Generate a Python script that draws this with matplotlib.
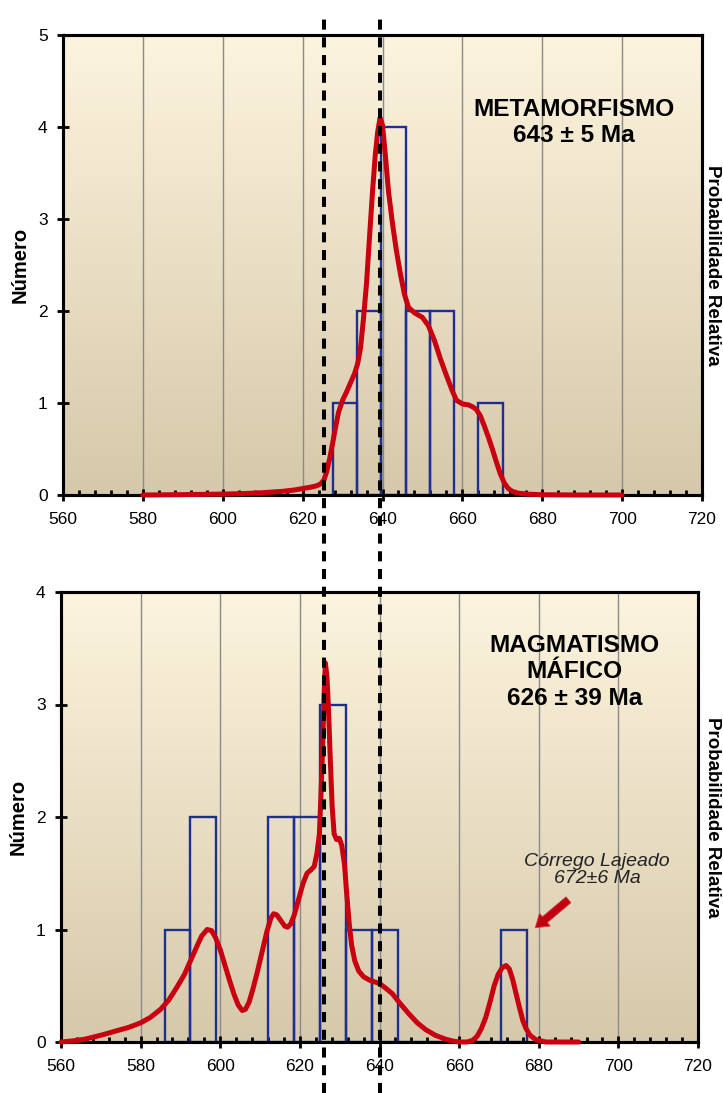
import numpy as np
import matplotlib
matplotlib.use("Agg")
import matplotlib.pyplot as plt
from matplotlib.lines import Line2D
from matplotlib.transforms import blended_transform_factory

plt.rcParams['font.family'] = ['Liberation Sans', 'DejaVu Sans']

# ---------------- data ----------------
# Top panel: METAMORFISMO
top_bin_start = 627.6
top_bin_width = 6.07
top_counts = [1, 2, 4, 2, 2, 0, 1]
top_curve_x = [580, 590, 600, 605, 610, 615, 618, 620, 622, 623.5, 624.5, 625.3, 626,
               626.8, 627.5, 628.3, 629, 630, 631, 632, 633, 633.8, 634.5, 635.2, 636,
               636.8, 637.5, 638.2, 638.8, 639.4, 640, 640.7, 641.5, 642.5, 643.5, 644.5,
               645.5, 646.5, 648, 650, 651.5, 653, 654.5, 656, 657.5, 658.5, 660, 661.5,
               662.5, 663.5, 664.5, 665.5, 666.5, 667.5, 668.5, 669.5, 670.5, 671.5,
               672.5, 674, 676, 680, 690, 700]
top_curve_y = [0.0, 0.004, 0.01, 0.015, 0.025, 0.04, 0.055, 0.07, 0.085, 0.1, 0.12, 0.16,
               0.25, 0.4, 0.56, 0.75, 0.9, 1.03, 1.12, 1.22, 1.32, 1.43, 1.6, 1.9, 2.3,
               2.84, 3.3, 3.7, 3.95, 4.1, 4.02, 3.7, 3.3, 2.95, 2.65, 2.4,
               2.18, 2.04, 1.98, 1.93, 1.84, 1.68, 1.48, 1.3, 1.13, 1.03, 0.99, 0.98,
               0.96, 0.93, 0.86, 0.75, 0.63, 0.5, 0.36, 0.23, 0.13, 0.07,
               0.04, 0.02, 0.01, 0.003, 0.0, 0.0]

# Bottom panel: MAGMATISMO MAFICO
bot_bin_start = 586.0
bot_bin_width = 6.51
bot_counts = [1, 2, 0, 0, 2, 2, 3, 1, 1, 0, 0, 0, 0, 1]
bot_curve_x = [560, 563, 566, 570, 574, 577, 580, 582.5, 585, 587, 589, 591, 592.5, 594,
               595.3, 596.7, 597.8, 598.8, 600, 601.2, 602.4, 603.5, 604.5, 605.5, 606.3,
               607.2, 608.2, 609.3, 610.5, 611.7, 612.7, 613.4, 614.2, 615.2, 616.2,
               616.9, 617.7, 618.6, 619.7, 620.8, 621.8, 622.8, 623.6, 624.3, 624.9,
               625.3, 625.7, 626.1, 626.4, 626.8, 627.2, 627.6, 628.1, 628.6, 629.2,
               629.9, 630.5, 631.2, 631.8, 632.4, 633, 633.8, 634.8, 636, 637.5, 640,
               641.5, 643.2, 645, 647.4, 649.5, 651.6, 654, 656.6, 658.5, 660, 662,
               663.4, 664.5, 665.6, 666.7, 667.8, 668.8, 669.8, 670.8, 671.8, 672.6,
               673.5, 674.3, 675.2, 676, 676.8, 677.8, 679.3, 681.8, 690]
bot_curve_y = [0.0, 0.01, 0.025, 0.06, 0.1, 0.13, 0.17, 0.22, 0.29, 0.37, 0.48, 0.6, 0.72,
               0.84, 0.94, 1.0, 0.99, 0.93, 0.82, 0.68, 0.54, 0.42, 0.33, 0.28, 0.29,
               0.35, 0.47, 0.62, 0.8, 0.98, 1.1, 1.14, 1.13, 1.08, 1.03,
               1.02, 1.05, 1.13, 1.27, 1.41, 1.5, 1.53, 1.56, 1.68, 1.85,
               2.2, 2.6, 3.1, 3.37, 3.25, 2.95, 2.55, 2.1, 1.85, 1.8,
               1.81, 1.75, 1.58, 1.3, 1.05, 0.86, 0.72, 0.63, 0.58, 0.55, 0.52,
               0.48, 0.43, 0.35, 0.25, 0.17, 0.11, 0.06, 0.025, 0.008, 0.0, 0.0,
               0.015, 0.05, 0.12, 0.22, 0.36, 0.5, 0.6, 0.66, 0.68, 0.65,
               0.55, 0.43, 0.3, 0.19, 0.12, 0.06, 0.02, 0.0, 0.0]

x_ticks = [560, 580, 600, 620, 640, 660, 680, 700, 720]
dash_lines_x = [626, 640]

top_title = "METAMORFISMO\n643 ± 5 Ma"
bot_title = "MAGMATISMO\nMÁFICO\n626 ± 39 Ma"
annot_text = "Córrego Lajeado\n672±6 Ma"

# ---------------- styling ----------------
BAR_EC = '#1f2f8f'
CURVE_C = '#c8000f'
GRID_C = '#8a8a8a'

fig = plt.figure(figsize=(7.23, 10.93), dpi=100)
ax1 = fig.add_axes([63/723, 1-495/1093, (702-63)/723, (495-35)/1093])
ax2 = fig.add_axes([61/723, 1-1042/1093, (698-61)/723, (1042-592)/1093])

grad = np.linspace(0, 1, 256).reshape(-1, 1)
top_rgb = np.array([253, 244, 222]) / 255.0
bot_rgb = np.array([214, 200, 170]) / 255.0
grad_img = top_rgb[None, None, :] * (1 - grad[:, :, None]) + bot_rgb[None, None, :] * grad[:, :, None]


def style_axes(ax, ymax, counts, start, width, cx, cy, rlabel_x):
    ax.imshow(grad_img, extent=[0, 1, 0, 1], transform=ax.transAxes,
              aspect='auto', zorder=0, interpolation='bilinear')
    edges = [start + i * width for i in range(len(counts) + 1)]
    ax.hist(edges[:-1], bins=edges, weights=counts, histtype='bar',
            facecolor='none', edgecolor=BAR_EC, linewidth=1.7, zorder=2)
    ax.set_xlim(560, 720)
    ax.set_ylim(0, ymax)
    ax.set_xticks(x_ticks)
    ax.set_xticks(np.arange(560, 721, 4), minor=True)
    ax.set_yticks(range(0, ymax + 1))
    ax.grid(axis='x', color=GRID_C, linewidth=1.0, zorder=1)
    ax.set_axisbelow(True)
    for s in ax.spines.values():
        s.set_linewidth(2.2)
        s.set_color('black')
    ax.tick_params(axis='both', which='major', direction='inout', length=8,
                   width=2.0, labelsize=12.5)
    ax.tick_params(axis='x', which='major', pad=8)
    ax.tick_params(axis='y', which='major', pad=7)
    ax.tick_params(axis='x', which='minor', direction='in', length=3.5, width=2.0)
    ax.tick_params(axis='y', which='minor', left=False)
    ax.set_ylabel('Número', fontsize=14.5, fontweight='bold', labelpad=6)

    tw = ax.twinx()
    tw.set_ylim(0, ymax)
    tw.set_yticks([])
    tw.plot(cx, cy, color=CURVE_C, linewidth=3.6, solid_capstyle='round',
            solid_joinstyle='round', clip_on=False, zorder=3)
    tw.set_ylabel('Probabilidade Relativa', fontsize=13.5, fontweight='bold',
                  rotation=-90)
    tw.yaxis.set_label_coords(rlabel_x, 0.5)
    tw.yaxis.label.set_ha('center')
    tw.yaxis.label.set_va('center')
    for s in tw.spines.values():
        s.set_linewidth(2.2)
    return tw


tw1 = style_axes(ax1, 5, top_counts, top_bin_start, top_bin_width,
                 top_curve_x, top_curve_y, (712 - 63) / 639)
tw2 = style_axes(ax2, 4, bot_counts, bot_bin_start, bot_bin_width,
                 bot_curve_x, bot_curve_y, (712 - 61) / 637)

ax1.text(688, 4.05, top_title, ha='center', va='center', fontsize=17.6,
         fontweight='bold', linespacing=1.15, zorder=5)
ax2.text(689, 3.29, bot_title, ha='center', va='center', fontsize=17.6,
         fontweight='bold', linespacing=1.18, zorder=5)
ax2.text(694.7, 1.53, annot_text, ha='center', va='center', fontsize=14,
         style='italic', color='#222222', linespacing=1.0, zorder=5)
ax2.annotate('', xy=(678.6, 1.0), xytext=(688.0, 1.28),
             arrowprops=dict(arrowstyle='simple,head_width=1.2,head_length=0.9,tail_width=0.55',
                             fc='#c00010', ec='#d04040', lw=0.6),
             zorder=6)

# dashed vertical reference lines crossing the whole figure
trans = blended_transform_factory(ax2.transData, fig.transFigure)
for xv in dash_lines_x:
    ln = Line2D([xv, xv], [0.0, 1 - 12/1093], transform=trans, color='black',
                linewidth=2.9, linestyle=(0, (2.5, 1.9)), zorder=10)
    fig.add_artist(ln)

fig.savefig('out.png', dpi=100)
